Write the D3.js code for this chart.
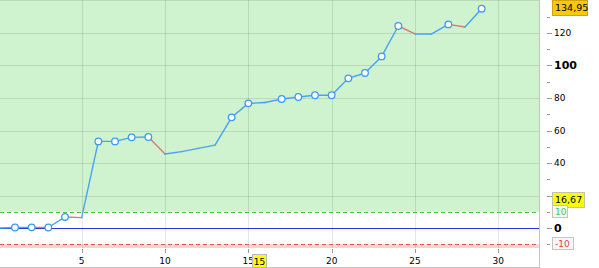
<!DOCTYPE html>
<html><head><meta charset="utf-8">
<script src="https://cdn.jsdelivr.net/npm/d3@7"></script>
<style>
html,body{margin:0;padding:0;background:#fff;overflow:hidden;}
svg{display:block;font-family:"DejaVu Sans",Verdana,sans-serif;}
</style></head>
<body>
<svg id="chart" width="599" height="268"></svg>
<script>
// ---- data ----
const xValues   = [0,1,2,3,4,5,6,7,8,9,10,11,12,13,14,15,16,17,18,19,20,21,22,23,24,25,26,27,28,29];
const yValues   = [0,0.3,0.4,0.3,6.8,6.4,53.3,53.3,55.8,56,45.5,47,49,51,68.1,76.7,77.2,79.4,80.6,81.7,81.7,92.1,95.4,105.6,124.3,119.4,119.4,125.3,123.7,134.95];
const hasMarker = [0,1,1,1,1,0,1,1,1,1,0,0,0,0,1,1,0,1,1,1,1,1,1,1,1,0,0,1,0,1];
const xTicks    = [5,10,15,20,25,30];
const yGrid     = [20,40,60,80,100,120,140];
const yMinorTicks = [-10,0,10,20,30,40,50,60,70,80,90,100,110,120,130];
const yMajorTicks = [0,20,40,60,80,100,120];
const yLabels   = [0,40,60,80,100,120];
const yBoldLabels = [0,100];
const upperLevel = 10;
const lowerLevel = -10;
const avgValue  = 16.67;
const lastValue = 134.95;
const cursorX   = 15;

// ---- layout ----
const W = 599, H = 268;
const plot = {l:0, t:0, r:539, b:248};
const x = d3.scaleLinear().domain([0.1, 32.44]).range([plot.l, plot.r]);
const y = d3.scaleLinear().domain([-12.3, 140.3]).range([plot.b, plot.t]);
const svg = d3.select("#chart");
const fmt = v => d3.format(".2f")(v).replace(".", ",");

svg.append("defs").append("clipPath").attr("id","clip")
  .append("rect").attr("x",plot.l).attr("y",plot.t).attr("width",plot.r-plot.l).attr("height",plot.b-plot.t);

const g = svg.append("g").attr("clip-path","url(#clip)");
// zones
g.append("rect").attr("x",plot.l).attr("width",plot.r-plot.l)
  .attr("y",y(y.domain()[1])).attr("height",y(upperLevel)-y(y.domain()[1]))
  .attr("fill","#cff2cf");
g.append("rect").attr("x",plot.l).attr("width",plot.r-plot.l)
  .attr("y",y(lowerLevel)).attr("height",y(y.domain()[0])-y(lowerLevel))
  .attr("fill","#f6d2d2");
// grid
g.selectAll(".vg").data(xTicks).join("line")
  .attr("x1",d=>Math.round(x(d))+0.5).attr("x2",d=>Math.round(x(d))+0.5)
  .attr("y1",plot.t).attr("y2",plot.b)
  .attr("stroke","rgba(0,0,0,0.1)").attr("stroke-width",1);
g.selectAll(".hg").data(yGrid).join("line")
  .attr("x1",plot.l).attr("x2",plot.r)
  .attr("y1",d=>Math.round(y(d))+0.5).attr("y2",d=>Math.round(y(d))+0.5)
  .attr("stroke","rgba(0,0,0,0.1)").attr("stroke-width",1);
// levels
g.append("line").attr("x1",plot.l).attr("x2",plot.r)
  .attr("y1",Math.round(y(upperLevel))+0.5).attr("y2",Math.round(y(upperLevel))+0.5)
  .attr("stroke","#44c844").attr("stroke-dasharray","4,3");
g.append("line").attr("x1",plot.l).attr("x2",plot.r)
  .attr("y1",Math.round(y(lowerLevel))+0.5).attr("y2",Math.round(y(lowerLevel))+0.5)
  .attr("stroke","#e05858").attr("stroke-dasharray","4,3");
g.append("line").attr("x1",plot.l).attr("x2",plot.r)
  .attr("y1",Math.round(y(0))+0.5).attr("y2",Math.round(y(0))+0.5)
  .attr("stroke","#2233dd").attr("stroke-width",1.2);

// line segments
const pts = xValues.map((v,i)=>({x:v,y:yValues[i],m:hasMarker[i]}));
const segs = d3.pairs(pts);
g.selectAll(".seg").data(segs).join("line")
  .attr("x1",d=>x(d[0].x)).attr("y1",d=>y(d[0].y))
  .attr("x2",d=>x(d[1].x)).attr("y2",d=>y(d[1].y))
  .attr("stroke",d=>d[1].y < d[0].y ? "#d27c7c" : "#4aa2f2")
  .attr("stroke-width",1.4).attr("stroke-linecap","round");
g.selectAll(".pt").data(pts.filter(p=>p.m)).join("circle")
  .attr("cx",d=>x(d.x)).attr("cy",d=>y(d.y)).attr("r",3.3)
  .attr("fill","#fff").attr("stroke","#3d9bf5").attr("stroke-width",1.3);

// borders
svg.append("line").attr("x1",539.5).attr("x2",539.5).attr("y1",0).attr("y2",H)
  .attr("stroke","#c4c4c4");
svg.append("line").attr("x1",0).attr("x2",540).attr("y1",267.5).attr("y2",267.5)
  .attr("stroke","#c4c4c4");

// x axis
svg.selectAll(".xt").data(xTicks).join("line")
  .attr("x1",d=>Math.round(x(d))+0.5).attr("x2",d=>Math.round(x(d))+0.5)
  .attr("y1",plot.b+1).attr("y2",plot.b+5).attr("stroke","#999");
svg.selectAll(".xl").data(xTicks).join("text")
  .attr("x",d=>x(d)).attr("y",264).attr("text-anchor","middle")
  .attr("font-size",9).attr("fill","#000").text(d=>d);
// cursor label
const cx0 = x(cursorX)+4;
svg.append("rect").attr("x",Math.round(cx0)+0.5).attr("y",254.5).attr("width",14).attr("height",13)
  .attr("fill","#ffff00").attr("stroke","#b8b8b8");
svg.append("text").attr("x",Math.round(cx0)+7.5).attr("y",264.5).attr("text-anchor","middle")
  .attr("font-size",9).attr("fill","#000").text(cursorX);

// y axis (right)
const ax = 547;
svg.selectAll(".ymn").data(yMinorTicks).join("line")
  .attr("x1",ax).attr("x2",ax+3)
  .attr("y1",d=>Math.round(y(d))+0.5).attr("y2",d=>Math.round(y(d))+0.5).attr("stroke","#9a9a9a");
svg.selectAll(".ymj").data(yMajorTicks).join("line")
  .attr("x1",ax).attr("x2",ax+5)
  .attr("y1",d=>Math.round(y(d))+0.5).attr("y2",d=>Math.round(y(d))+0.5).attr("stroke","#9a9a9a");
svg.selectAll(".yl").data(yLabels).join("text")
  .attr("x",554).attr("y",d=>y(d)).attr("dy",yBoldLabels.length? "0.36em":"0")
  .attr("font-size",d=>yBoldLabels.includes(d)?11:9)
  .attr("font-weight",d=>yBoldLabels.includes(d)?"bold":"normal")
  .attr("fill","#000").text(d=>d);

// value boxes
function box(v, txt, w, h, fill, stroke, color, fs){
  const cy = y(v)-1;
  const top = Math.max(0, Math.round(cy-h/2));
  svg.append("rect").attr("x",552.5).attr("y",top+0.5).attr("width",w).attr("height",h)
    .attr("fill",fill).attr("stroke",stroke);
  svg.append("text").attr("x",555).attr("y",top+h/2+0.5).attr("dy","0.36em")
    .attr("font-size",fs).attr("fill",color).text(txt);
}
box(lastValue, fmt(lastValue), 35, 15, "#f7c80c", "#d2a400", "#000", 9.5);
box(avgValue, fmt(avgValue), 32, 15, "#ffff00", "#c4c4a0", "#000", 9.5);
box(upperLevel, String(upperLevel), 15, 12, "#f6f6f6", "#c4c4c4", "#44cc44", 9);
box(lowerLevel, String(lowerLevel), 21, 12, "#f6f6f6", "#c4c4c4", "#e04848", 9);
</script>
</body></html>
